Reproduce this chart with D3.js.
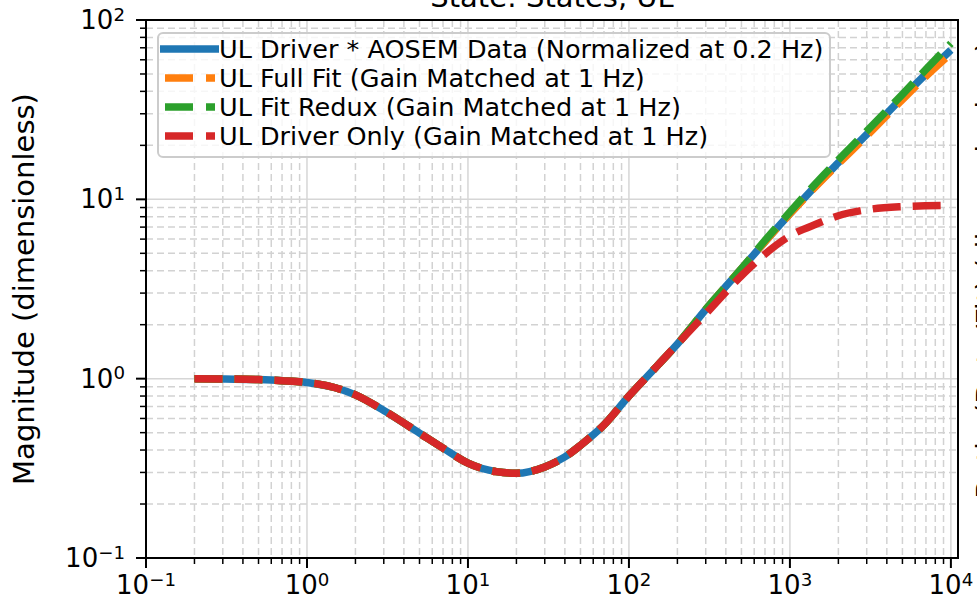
<!DOCTYPE html>
<html>
<head>
<meta charset="utf-8">
<script src="https://cdn.jsdelivr.net/npm/d3@7"></script>
<style>
  body { margin: 0; background: #ffffff; }
  svg { display: block; font-family: "DejaVu Sans", sans-serif; }
</style>
</head>
<body>
<div id="chart"></div>
<script>

// Data
////////////////////////////////////////
var freqs = [0.2, 0.3, 0.5, 0.7, 1, 1.5, 2, 3, 5, 7, 10, 15, 20, 30, 40, 50, 70,
             100, 150, 200, 300, 500, 700, 1000, 1500, 2000, 3000, 5000, 7000, 10000];

var aosemData = [1.0, 0.997, 0.988, 0.975, 0.953, 0.89, 0.812, 0.665, 0.497, 0.41, 0.338, 0.303, 0.297, 0.322, 0.366, 0.425, 0.553,
                 0.80, 1.18, 1.56, 2.43, 4.1, 5.8, 8.3, 12.3, 16.0, 23.0, 37.0, 50.0, 68.0];

var fullFit = [1.0, 0.997, 0.988, 0.975, 0.953, 0.89, 0.812, 0.665, 0.497, 0.41, 0.338, 0.303, 0.297, 0.322, 0.366, 0.425, 0.553,
               0.80, 1.18, 1.56, 2.43, 4.1, 5.8, 8.3, 12.2, 15.8, 22.6, 36.0, 48.5, 65.0];

var fitRedux = [1.0, 0.997, 0.988, 0.975, 0.953, 0.89, 0.812, 0.665, 0.497, 0.41, 0.338, 0.303, 0.297, 0.322, 0.366, 0.425, 0.553,
                0.80, 1.18, 1.56, 2.43, 4.1, 5.9, 8.5, 12.7, 16.6, 24.0, 38.5, 53.0, 74.0];

var driverOnly = [1.0, 0.997, 0.988, 0.975, 0.953, 0.89, 0.812, 0.665, 0.497, 0.41, 0.338, 0.303, 0.297, 0.322, 0.366, 0.425, 0.553,
                  0.80, 1.18, 1.56, 2.3, 3.75, 4.95, 6.25, 7.35, 8.1, 8.75, 9.1, 9.2, 9.25];

var seriesNames = ["UL Driver * AOSEM Data (Normalized at 0.2 Hz)",
                   "UL Full Fit (Gain Matched at 1 Hz)",
                   "UL Fit Redux (Gain Matched at 1 Hz)",
                   "UL Driver Only (Gain Matched at 1 Hz)"];
var seriesColors = ["#1f77b4", "#ff7f0e", "#2ca02c", "#d62728"];
var seriesValues = [aosemData, fullFit, fitRedux, driverOnly];

var xDecades = [-1, 0, 1, 2, 3, 4];
var yDecades = [-1, 0, 1, 2];

var titleText = "State: States, UL";
var yLabelText = "Magnitude (dimensionless)";
var rightLabelText = "Ratio (Data/Fit) (dimensionless)";

// SVG area
////////////////////////////////////////
var svgWidth = 977;
var svgHeight = 604;

var plotLeft = 146, plotRight = 958, plotTop = 20, plotBottom = 558;

var svg = d3.select("#chart")
    .append("svg")
    .attr("width", svgWidth)
    .attr("height", svgHeight);

// scales
var xScale = d3.scaleLog()
    .domain([0.1, 11070])
    .range([plotLeft, plotRight]);

var yScale = d3.scaleLog()
    .domain([0.1, 100])
    .range([plotBottom, plotTop]);

// major and minor tick values
var xMajor = xDecades.map(d => Math.pow(10, d));
var yMajor = yDecades.map(d => Math.pow(10, d));
var xMinor = [], yMinor = [];
xDecades.forEach(function(d) {
    for (var k = 2; k <= 9; k++) {
        var v = k * Math.pow(10, d);
        if (v <= xScale.domain()[1]) xMinor.push(v);
    }
});
yDecades.slice(0, -1).forEach(function(d) {
    for (var k = 2; k <= 9; k++) yMinor.push(k * Math.pow(10, d));
});

// grid
var grid = svg.append("g");
grid.selectAll(".xminor").data(xMinor).enter().append("line")
    .attr("x1", d => xScale(d)).attr("x2", d => xScale(d))
    .attr("y1", plotTop).attr("y2", plotBottom)
    .attr("stroke", "#d2d2d2").attr("stroke-width", 1.5).attr("stroke-dasharray", "7,4");
grid.selectAll(".yminor").data(yMinor).enter().append("line")
    .attr("y1", d => yScale(d)).attr("y2", d => yScale(d))
    .attr("x1", plotLeft).attr("x2", plotRight)
    .attr("stroke", "#d2d2d2").attr("stroke-width", 1.5).attr("stroke-dasharray", "7,4");
grid.selectAll(".xmajor").data(xMajor).enter().append("line")
    .attr("x1", d => xScale(d)).attr("x2", d => xScale(d))
    .attr("y1", plotTop).attr("y2", plotBottom)
    .attr("stroke", "#d6d6d6").attr("stroke-width", 1.5);
grid.selectAll(".ymajor").data(yMajor).enter().append("line")
    .attr("y1", d => yScale(d)).attr("y2", d => yScale(d))
    .attr("x1", plotLeft).attr("x2", plotRight)
    .attr("stroke", "#d6d6d6").attr("stroke-width", 1.5);

// curves
svg.append("clipPath").attr("id", "plotclip")
    .append("rect")
    .attr("x", plotLeft).attr("y", plotTop)
    .attr("width", plotRight - plotLeft).attr("height", plotBottom - plotTop);

var lineGen = d3.line()
    .x(d => xScale(d[0]))
    .y(d => yScale(d[1]))
    .curve(d3.curveMonotoneX);

var curves = svg.append("g").attr("clip-path", "url(#plotclip)");
seriesValues.forEach(function(vals, i) {
    var pts = freqs.map((f, j) => [f, vals[j]]);
    curves.append("path")
        .attr("d", lineGen(pts))
        .attr("fill", "none")
        .attr("stroke", seriesColors[i])
        .attr("stroke-width", 7.5)
        .attr("stroke-dasharray", i === 0 ? null : "28,12");
});

// axes frame
svg.append("rect")
    .attr("x", plotLeft).attr("y", plotTop)
    .attr("width", plotRight - plotLeft).attr("height", plotBottom - plotTop)
    .attr("fill", "none").attr("stroke", "#000").attr("stroke-width", 2);

// tick marks
var ticks = svg.append("g").attr("stroke", "#000");
ticks.selectAll(".xt").data(xMajor).enter().append("line")
    .attr("x1", d => xScale(d)).attr("x2", d => xScale(d))
    .attr("y1", plotBottom).attr("y2", plotBottom + 10).attr("stroke-width", 2);
ticks.selectAll(".xtm").data(xMinor).enter().append("line")
    .attr("x1", d => xScale(d)).attr("x2", d => xScale(d))
    .attr("y1", plotBottom).attr("y2", plotBottom + 6).attr("stroke-width", 1.5);
ticks.selectAll(".yt").data(yMajor).enter().append("line")
    .attr("y1", d => yScale(d)).attr("y2", d => yScale(d))
    .attr("x1", plotLeft).attr("x2", plotLeft - 10).attr("stroke-width", 2);
ticks.selectAll(".ytm").data(yMinor).enter().append("line")
    .attr("y1", d => yScale(d)).attr("y2", d => yScale(d))
    .attr("x1", plotLeft).attr("x2", plotLeft - 6).attr("stroke-width", 1.5);

// tick labels as 10^n
function powerLabel(sel, n) {
    sel.append("tspan").text("10");
    sel.append("tspan")
        .attr("dy", "-0.45em")
        .attr("font-size", "0.7em")
        .text(n < 0 ? "\u2212" + (-n) : n);
}

svg.selectAll(".xlab").data(xDecades).enter().append("text")
    .attr("x", d => xScale(Math.pow(10, d)))
    .attr("y", 594)
    .attr("text-anchor", "middle")
    .attr("font-size", 26)
    .each(function(d) { powerLabel(d3.select(this), d); });

svg.selectAll(".ylab").data(yDecades).enter().append("text")
    .attr("x", 125)
    .attr("y", d => yScale(Math.pow(10, d)) + 9)
    .attr("text-anchor", "end")
    .attr("font-size", 26)
    .each(function(d) { powerLabel(d3.select(this), d); });

// axis label and title
svg.append("text")
    .attr("transform", "translate(34," + ((plotTop + plotBottom) / 2) + ") rotate(-90)")
    .attr("text-anchor", "middle")
    .attr("font-size", 29)
    .text(yLabelText);

svg.append("text")
    .attr("x", (plotLeft + plotRight) / 2)
    .attr("y", 7)
    .attr("text-anchor", "middle")
    .attr("font-size", 29)
    .text(titleText);

// label of the neighbouring panel, mostly cut off
svg.append("text")
    .attr("transform", "translate(997,270) rotate(-90)")
    .attr("text-anchor", "middle")
    .attr("font-size", 29)
    .text(rightLabelText);

// legend
var legend = svg.append("g");
legend.append("rect")
    .attr("x", 158).attr("y", 33)
    .attr("width", 672).attr("height", 124)
    .attr("rx", 5)
    .attr("fill", "rgba(255,255,255,0.8)")
    .attr("stroke", "#cccccc").attr("stroke-width", 2);

seriesNames.forEach(function(name, i) {
    var rowY = 49 + i * 29;
    legend.append("line")
        .attr("x1", 160).attr("x2", i === 0 ? 219 : 215)
        .attr("y1", rowY).attr("y2", rowY)
        .attr("stroke", seriesColors[i])
        .attr("stroke-width", 7.5)
        .attr("stroke-dasharray", i === 0 ? null : "28,13")
        .attr("stroke-dashoffset", i === 0 ? null : 36);
    legend.append("text")
        .attr("x", 219).attr("y", rowY)
        .attr("dominant-baseline", "central")
        .attr("font-size", 25.5)
        .text(name);
});

</script>
</body>
</html>
